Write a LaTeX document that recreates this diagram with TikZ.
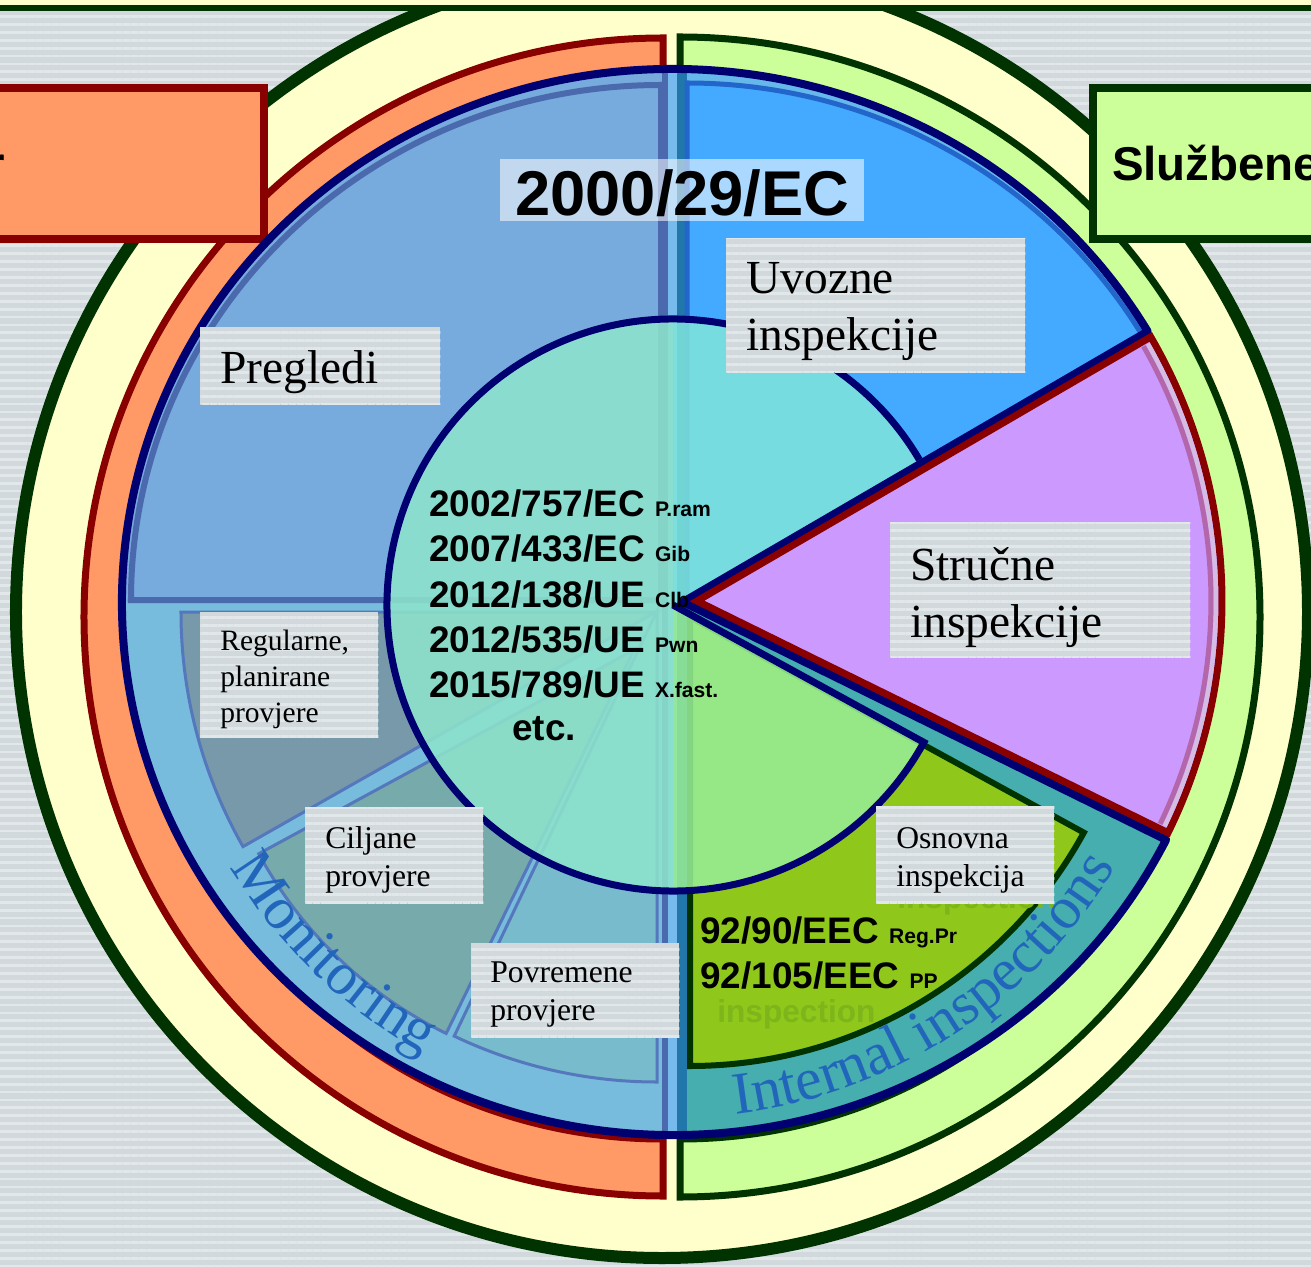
\documentclass[tikz,border=0pt]{standalone}
\usepackage{fontspec}
\setmainfont{Liberation Serif}
\setsansfont{Liberation Sans}
\usetikzlibrary{patterns.meta,decorations.text}

\definecolor{bggray}{HTML}{D1D9DC}
\definecolor{stripe}{HTML}{E2E8EA}
\definecolor{ringyellow}{HTML}{FFFFCC}
\definecolor{leafdark}{HTML}{003300}
\definecolor{monorange}{HTML}{FF9966}
\definecolor{monred}{HTML}{880000}
\definecolor{offgreen}{HTML}{CCFF99}
\definecolor{pienavy}{HTML}{000070}
\definecolor{pregblue}{HTML}{77AADD}
\definecolor{pregedge}{HTML}{4B69AD}
\definecolor{monsky}{HTML}{77BBDD}
\definecolor{regcol}{HTML}{7799AA}
\definecolor{cilcol}{HTML}{77AAAA}
\definecolor{povcol}{HTML}{77BBCC}
\definecolor{subedge}{HTML}{5577BB}
\definecolor{coreleft}{HTML}{8DE3CC}
\definecolor{coretop}{HTML}{7DE3DB}
\definecolor{corelow}{HTML}{97EC94}
\definecolor{uvocol}{HTML}{44AAFF}
\definecolor{uvoedge}{HTML}{2266CC}
\definecolor{rightsky}{HTML}{66B8EA}
\definecolor{stripsky}{HTML}{77BBEE}
\definecolor{stripteal}{HTML}{2277AA}
\definecolor{intteal}{HTML}{46AEAE}
\definecolor{strcol}{HTML}{CC99FF}
\definecolor{strmauve}{HTML}{B466AA}
\definecolor{strlav}{HTML}{D4BCE4}
\definecolor{osncol}{HTML}{8FC71A}
\definecolor{ghostcol}{HTML}{7DB51A}
\definecolor{ringblue}{HTML}{2266BB}

\newcommand\codefont{\sffamily\bfseries\fontsize{21}{25}\selectfont}
\newcommand\lawtag[1]{{\fontsize{12}{14}\selectfont #1}}
\newcommand\bigserif{\fontsize{27}{32.3}\selectfont}
\newcommand\midserif{\fontsize{18}{21.5}\selectfont}
\newcommand\ringfont{\fontsize{34}{36}\selectfont}
\newcommand\boxfont{\sffamily\bfseries\fontsize{27}{30}\selectfont}

\tikzset{
  labelbox/.style={fill=bggray,
    postaction={pattern={Lines[angle=0,distance=4.5pt,line width=1.6pt]}, pattern color=stripe},
    anchor=north west, align=left, inner xsep=4mm, inner ysep=0pt},
  lawcode/.style={font=\codefont, anchor=base west, inner sep=0pt},
  ghosttext/.style={font=\sffamily\bfseries\fontsize{18}{20}\selectfont, text=ghostcol, anchor=base west, inner sep=0pt},
  subsector/.style={draw=subedge, line width=0.6mm},
  ringtitle/.style={decorate, decoration={text along path, text={|\ringfont|#1}, text align=center, text color=ringblue}}
}

\begin{document}
\begin{tikzpicture}[x=0.2mm, y=0.2mm]
    \useasboundingbox (-673,-664) rectangle (638,602);
    \clip (-673,-664) rectangle (638,602);
    % background
    \fill[bggray, postaction={pattern={Lines[angle=0,distance=4.5pt,line width=1.6pt]}, pattern color=stripe}]
        (-673,-664) rectangle (638,602);
    % outer ring
    \filldraw[fill=ringyellow, draw=leafdark, line width=2.4mm]
        (-11,-10) circle[radius=646];
    \fill[ringyellow] (-673,594) rectangle (638,602);
    \draw[leafdark, line width=1.2mm] (-673,594) -- (638,594);
    % half rings
    \filldraw[fill=monorange, draw=monred, line width=1.4mm]
        (-10,564) arc[start angle=90, end angle=270, radius=579]
        -- (-10,-537) arc[start angle=270, end angle=90, radius=522] -- cycle;
    \filldraw[fill=offgreen, draw=leafdark, line width=1.4mm]
        (7,565) arc[start angle=90, end angle=-90, radius=580]
        -- (7,-537) arc[start angle=-90, end angle=90, radius=522] -- cycle;
    % side boxes
    \node[draw=monred, fill=monorange, line width=1.6mm, anchor=north east, align=right,
        text width=20mm, inner xsep=51.9mm, inner ysep=0pt, text height=18.6mm, text depth=11.6mm,
        font=\boxfont] (scopebox) at (-405,518) {r};
    \node[draw=leafdark, fill=offgreen, line width=1.6mm, anchor=north west, align=left,
        text width=60mm, inner xsep=3.8mm, inner ysep=0pt, text height=18.6mm, text depth=11.6mm,
        font=\boxfont] (officialbox) at (416,518) {Službene};
    % pie bases
    \fill[pregblue] (0,0) -- (0,533) arc[start angle=90, end angle=180, x radius=551, y radius=533] -- cycle;
    \fill[monsky] (0,0) -- (-551,0) arc[start angle=180, end angle=270, x radius=551, y radius=533] -- cycle;
    \fill[rightsky] (0,0) -- (0,533) arc[start angle=90, end angle=0, x radius=551, y radius=533] -- cycle;
    \fill[intteal] (0,0) -- (551,0) arc[start angle=0, end angle=-90, x radius=551, y radius=533] -- cycle;
    \begin{scope}
        \clip (0,0) ellipse[x radius=551, y radius=533];
        \fill[pregedge] (-11,-533) rectangle (-5,533);
        \fill[stripsky] (-5,-533) rectangle (4,533);
        \fill[stripteal] (4,-533) rectangle (14,533);
    \end{scope}
    % Pregledi
    \filldraw[fill=pregblue, draw=pregedge, line width=1.2mm]
        (-12,2) -- (-12,517) arc[start angle=90, end angle=180, x radius=530, y radius=515] -- cycle;
    % monitoring parts
    \filldraw[subsector, fill=regcol]
        (-17,-10) -- ++(180:475) arc[start angle=180, end angle=209.6, radius=475] -- cycle;
    \filldraw[subsector, fill=cilcol]
        (-39,-48) -- ++(208.5:427) arc[start angle=208.5, end angle=243.9, radius=427] -- cycle;
    \filldraw[subsector, fill=povcol]
        (-16,-9) -- ++(244.5:471) arc[start angle=244.5, end angle=270, radius=471] -- cycle;
    % Uvozne and Osnovna
    \filldraw[fill=uvocol, draw=uvoedge, line width=1mm]
        (14,2) -- (14,519) arc[start angle=90, end angle=30.5, x radius=530, y radius=517] -- cycle;
    \filldraw[fill=osncol, draw=leafdark, line width=1.2mm]
        (17,-15) -- ++(-28.7:449) arc[start angle=-28.7, end angle=-90, radius=449] -- cycle;
    \node[ghosttext] (ghostlow) at (44,-420) {inspection};
    \node[ghosttext] (ghosthigh) at (224,-306) {inspection};
    % core circle
    \fill[coreleft, fill opacity=.88]
        (0,-3) -- (0,283) arc[start angle=90, end angle=270, radius=286] -- cycle;
    \fill[coretop, fill opacity=.88]
        (0,-3) -- (0,283) arc[start angle=90, end angle=30.5, radius=286] -- cycle;
    \fill[corelow, fill opacity=.88]
        (0,-3) -- (0,-289) arc[start angle=-90, end angle=-28.7, radius=286] -- cycle;
    \draw[pienavy, line width=1.4mm]
        ([shift={(0,-3)}]30.5:286) arc[start angle=30.5, end angle=331.3, radius=286] -- (0,-3);
    % pie outline
    \draw[pienavy, line width=1.6mm, line join=round]
        (10,0) -- (30.5:551 and 533) arc[start angle=30.5, end angle=333.5, x radius=551, y radius=533] -- cycle;
    % Strucne wedge
    \filldraw[fill=strcol, draw=monred, line width=1.4mm]
        (24,1) -- ++(30.2:525) arc[start angle=30.2, end angle=-26.2, radius=525] -- cycle;
    \draw[strlav, line width=0.9mm]
        ([shift={(24,1)}]29.7:519) arc[start angle=29.7, end angle=-25.7, radius=519];
    \draw[strmauve, line width=1mm]
        ([shift={(24,1)}]29.7:514) arc[start angle=29.7, end angle=-25.7, radius=514];
    % ring titles
    \path[ringtitle=Monitoring] (206:516) arc[start angle=206, end angle=246, radius=516];
    \path[ringtitle=Internal inspections] (-88:516) arc[start angle=-88, end angle=-26, radius=516];
    % labels
    \node[labelbox, text width=40mm, text height=11.2mm, text depth=4.2mm, font=\bigserif]
        (pregledi) at (-473,275) {Pregledi};
    \node[labelbox, text width=51.8mm, text height=11mm, text depth=15.8mm, font=\bigserif]
        (uvozne) at (53,364) {Uvozne\\inspekcije};
    \node[labelbox, text width=52mm, text height=11.6mm, text depth=15.4mm, font=\bigserif]
        (strucne) at (217,80) {Stručne\\inspekcije};
    \node[labelbox, text width=27.6mm, text height=7.6mm, text depth=17.6mm, font=\fontsize{16.8}{20.4}\selectfont]
        (regularne) at (-473,-10) {Regularne,\\planirane\\provjere};
    \node[labelbox, text width=27.6mm, text height=8.2mm, text depth=11mm, font=\midserif]
        (ciljane) at (-368,-205) {Ciljane\\provjere};
    \node[labelbox, text width=34mm, inner xsep=3.8mm, text height=7.8mm, text depth=11mm, font=\midserif]
        (povremene) at (-202,-341) {Povremene\\provjere};
    \node[labelbox, text width=27.6mm, text height=8.4mm, text depth=11mm, font=\midserif]
        (osnovna) at (203,-204) {Osnovna\\inspekcija};
    % directive
    \node[fill=white, fill opacity=.55, text opacity=1, anchor=north west, inner xsep=3mm, inner ysep=0pt,
        text height=11.2mm, text depth=1.2mm, font=\sffamily\bfseries\fontsize{36}{40}\selectfont]
        (directive) at (-173,443) {2000/29/EC};
    % codes
    \node[lawcode] (code1) at (-244,85) {2002/757/EC \lawtag{P.ram}};
    \node[lawcode] (code2) at (-244,40) {2007/433/EC \lawtag{Gib}};
    \node[lawcode] (code3) at (-244,-5) {2012/138/UE \lawtag{Clb}};
    \node[lawcode] (code4) at (-244,-50) {2012/535/UE \lawtag{Pwn}};
    \node[lawcode] (code5) at (-244,-95) {2015/789/UE \lawtag{X.fast.}};
    \node[lawcode] (codeetc) at (-161,-138) {etc.};
    \node[lawcode] (eec1) at (27,-341) {92/90/EEC \lawtag{Reg.Pr}};
    \node[lawcode] (eec2) at (27,-386) {92/105/EEC \lawtag{PP}};
\end{tikzpicture}
\end{document}
